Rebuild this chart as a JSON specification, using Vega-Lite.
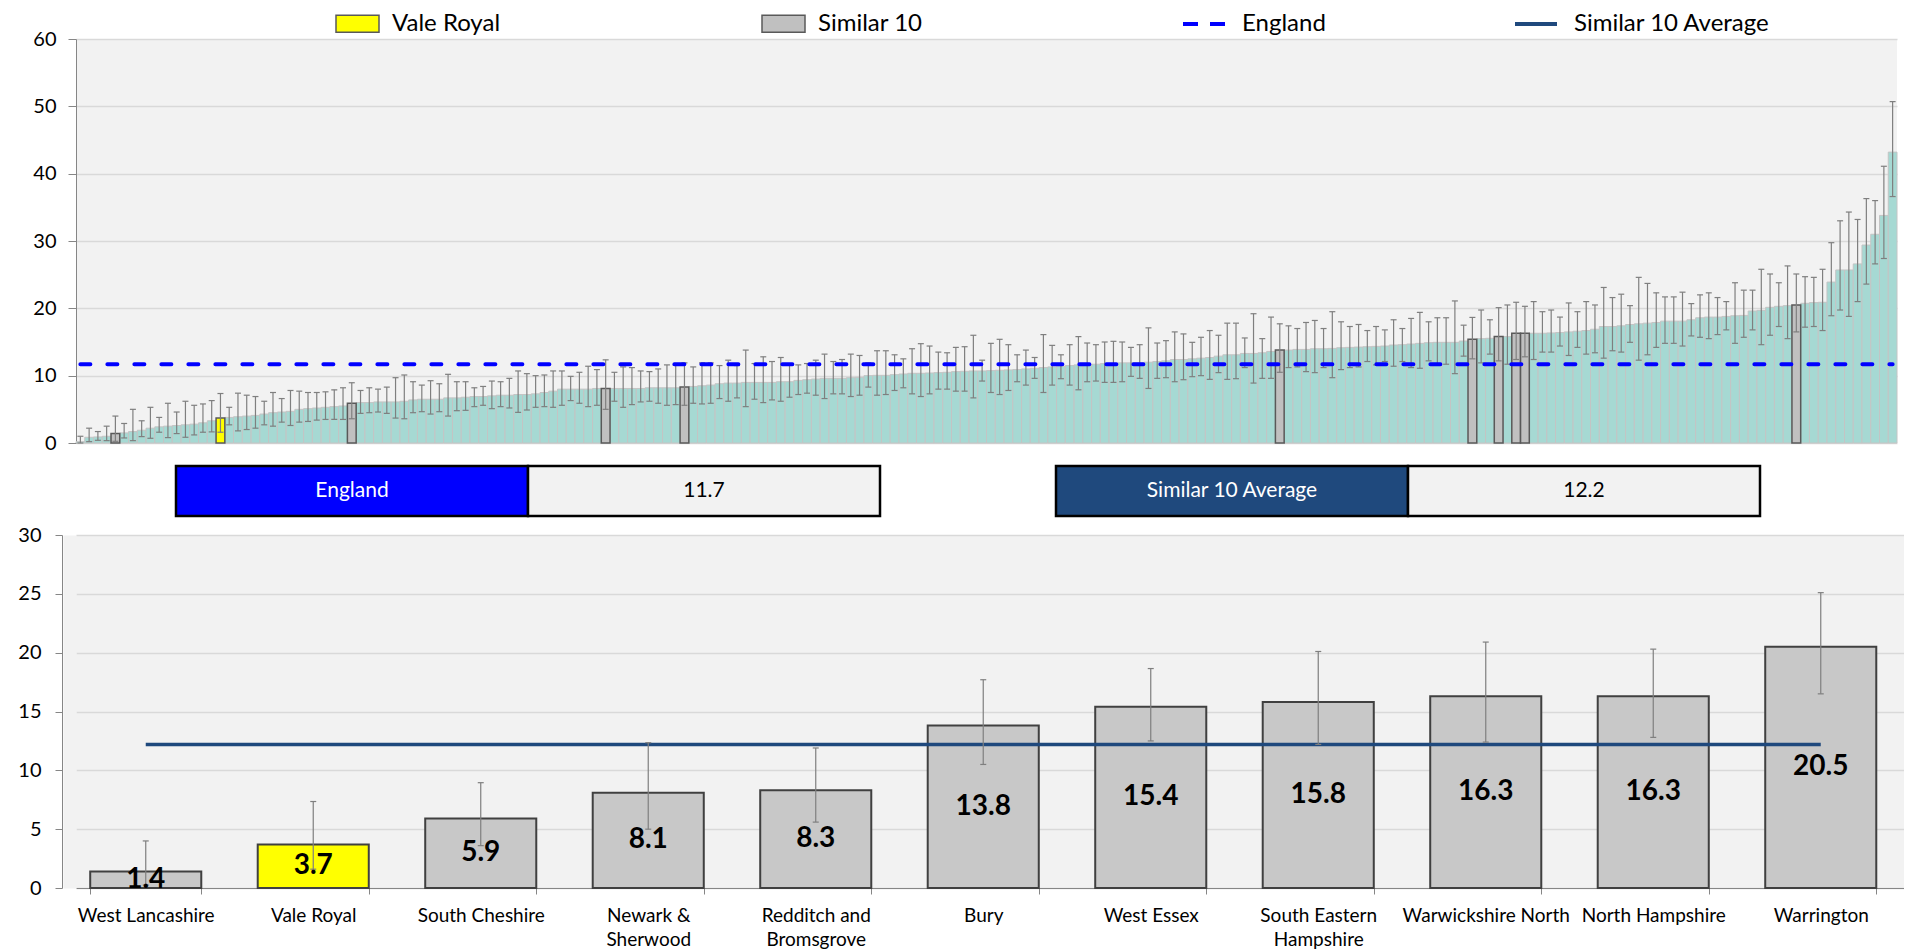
{
  "$schema": "https://vega.github.io/schema/vega-lite/v6.json",
  "padding": {"left": 0, "top": 1, "right": 0, "bottom": 0},
  "background": "white",
  "config": {
    "font": "Lato",
    "view": {"stroke": null},
    "axis": {"labelFont": "Lato", "labelColor": "#000000", "domainColor": "#868686", "tickColor": "#868686", "gridColor": "#D9D9D9", "gridWidth": 1.3, "title": null},
    "legend": {"labelFont": "Lato", "labelColor": "#000000", "labelLimit": 0}
  },
  "datasets": {
    "all": [
      {"i":0,"v":0.2,"lo":0.0,"hi":1.0,"g":"Other"},
      {"i":1,"v":0.85,"lo":0.2,"hi":2.2,"g":"Other"},
      {"i":2,"v":0.9,"lo":0.4,"hi":1.7,"g":"Other"},
      {"i":3,"v":1.0,"lo":0.35,"hi":2.5,"g":"Other"},
      {"i":4,"v":1.4,"lo":0.25,"hi":4.0,"g":"Similar 10"},
      {"i":5,"v":1.5,"lo":0.75,"hi":2.9,"g":"Other"},
      {"i":6,"v":1.7,"lo":0.35,"hi":5.0,"g":"Other"},
      {"i":7,"v":1.9,"lo":0.95,"hi":3.3,"g":"Other"},
      {"i":8,"v":2.2,"lo":0.7,"hi":5.3,"g":"Other"},
      {"i":9,"v":2.4,"lo":1.6,"hi":3.8,"g":"Other"},
      {"i":10,"v":2.5,"lo":0.8,"hi":5.9,"g":"Other"},
      {"i":11,"v":2.6,"lo":1.4,"hi":4.6,"g":"Other"},
      {"i":12,"v":2.7,"lo":0.85,"hi":6.2,"g":"Other"},
      {"i":13,"v":2.8,"lo":1.2,"hi":5.6,"g":"Other"},
      {"i":14,"v":3.0,"lo":1.6,"hi":5.8,"g":"Other"},
      {"i":15,"v":3.3,"lo":1.65,"hi":6.3,"g":"Other"},
      {"i":16,"v":3.7,"lo":1.6,"hi":7.35,"g":"Vale Royal"},
      {"i":17,"v":3.8,"lo":2.7,"hi":5.3,"g":"Other"},
      {"i":18,"v":3.9,"lo":1.8,"hi":7.4,"g":"Other"},
      {"i":19,"v":4.0,"lo":2.0,"hi":7.1,"g":"Other"},
      {"i":20,"v":4.1,"lo":2.2,"hi":6.9,"g":"Other"},
      {"i":21,"v":4.3,"lo":2.7,"hi":6.2,"g":"Other"},
      {"i":22,"v":4.5,"lo":2.5,"hi":7.5,"g":"Other"},
      {"i":23,"v":4.6,"lo":3.1,"hi":6.6,"g":"Other"},
      {"i":24,"v":4.7,"lo":2.6,"hi":7.8,"g":"Other"},
      {"i":25,"v":5.0,"lo":3.1,"hi":7.7,"g":"Other"},
      {"i":26,"v":5.1,"lo":3.2,"hi":7.5,"g":"Other"},
      {"i":27,"v":5.2,"lo":3.4,"hi":7.5,"g":"Other"},
      {"i":28,"v":5.3,"lo":3.5,"hi":7.6,"g":"Other"},
      {"i":29,"v":5.4,"lo":3.5,"hi":7.9,"g":"Other"},
      {"i":30,"v":5.5,"lo":3.5,"hi":8.2,"g":"Other"},
      {"i":31,"v":5.9,"lo":3.6,"hi":8.95,"g":"Similar 10"},
      {"i":32,"v":6.0,"lo":4.4,"hi":7.8,"g":"Other"},
      {"i":33,"v":6.0,"lo":4.5,"hi":8.2,"g":"Other"},
      {"i":34,"v":6.1,"lo":4.6,"hi":8.0,"g":"Other"},
      {"i":35,"v":6.1,"lo":4.4,"hi":8.3,"g":"Other"},
      {"i":36,"v":6.1,"lo":3.7,"hi":9.7,"g":"Other"},
      {"i":37,"v":6.2,"lo":3.6,"hi":10.1,"g":"Other"},
      {"i":38,"v":6.4,"lo":4.5,"hi":9.1,"g":"Other"},
      {"i":39,"v":6.5,"lo":4.65,"hi":8.6,"g":"Other"},
      {"i":40,"v":6.5,"lo":4.3,"hi":9.25,"g":"Other"},
      {"i":41,"v":6.5,"lo":4.65,"hi":8.8,"g":"Other"},
      {"i":42,"v":6.7,"lo":4.0,"hi":10.2,"g":"Other"},
      {"i":43,"v":6.7,"lo":4.8,"hi":9.1,"g":"Other"},
      {"i":44,"v":6.8,"lo":4.85,"hi":9.1,"g":"Other"},
      {"i":45,"v":6.9,"lo":5.4,"hi":8.2,"g":"Other"},
      {"i":46,"v":6.9,"lo":5.6,"hi":8.4,"g":"Other"},
      {"i":47,"v":7.0,"lo":5.1,"hi":9.2,"g":"Other"},
      {"i":48,"v":7.1,"lo":5.4,"hi":9.1,"g":"Other"},
      {"i":49,"v":7.1,"lo":5.2,"hi":9.6,"g":"Other"},
      {"i":50,"v":7.2,"lo":4.55,"hi":10.7,"g":"Other"},
      {"i":51,"v":7.2,"lo":4.9,"hi":10.3,"g":"Other"},
      {"i":52,"v":7.3,"lo":5.3,"hi":10.0,"g":"Other"},
      {"i":53,"v":7.5,"lo":5.4,"hi":10.1,"g":"Other"},
      {"i":54,"v":7.7,"lo":5.3,"hi":10.7,"g":"Other"},
      {"i":55,"v":8.0,"lo":5.6,"hi":10.7,"g":"Other"},
      {"i":56,"v":8.0,"lo":6.3,"hi":9.9,"g":"Other"},
      {"i":57,"v":8.0,"lo":5.9,"hi":10.5,"g":"Other"},
      {"i":58,"v":8.0,"lo":5.4,"hi":11.4,"g":"Other"},
      {"i":59,"v":8.1,"lo":5.6,"hi":10.9,"g":"Other"},
      {"i":60,"v":8.1,"lo":5.0,"hi":12.35,"g":"Similar 10"},
      {"i":61,"v":8.1,"lo":6.2,"hi":10.5,"g":"Other"},
      {"i":62,"v":8.1,"lo":5.3,"hi":11.3,"g":"Other"},
      {"i":63,"v":8.1,"lo":5.7,"hi":11.2,"g":"Other"},
      {"i":64,"v":8.1,"lo":6.1,"hi":10.7,"g":"Other"},
      {"i":65,"v":8.2,"lo":6.2,"hi":10.6,"g":"Other"},
      {"i":66,"v":8.2,"lo":5.9,"hi":11.0,"g":"Other"},
      {"i":67,"v":8.2,"lo":5.6,"hi":11.6,"g":"Other"},
      {"i":68,"v":8.2,"lo":5.7,"hi":11.6,"g":"Other"},
      {"i":69,"v":8.3,"lo":5.6,"hi":11.9,"g":"Similar 10"},
      {"i":70,"v":8.4,"lo":5.9,"hi":11.3,"g":"Other"},
      {"i":71,"v":8.5,"lo":5.8,"hi":11.9,"g":"Other"},
      {"i":72,"v":8.6,"lo":5.9,"hi":11.9,"g":"Other"},
      {"i":73,"v":8.8,"lo":6.6,"hi":11.5,"g":"Other"},
      {"i":74,"v":8.9,"lo":6.2,"hi":12.3,"g":"Other"},
      {"i":75,"v":8.9,"lo":6.7,"hi":11.5,"g":"Other"},
      {"i":76,"v":9.0,"lo":5.4,"hi":13.8,"g":"Other"},
      {"i":77,"v":9.0,"lo":6.5,"hi":11.8,"g":"Other"},
      {"i":78,"v":9.0,"lo":6.0,"hi":12.8,"g":"Other"},
      {"i":79,"v":9.0,"lo":6.4,"hi":12.1,"g":"Other"},
      {"i":80,"v":9.1,"lo":6.2,"hi":12.7,"g":"Other"},
      {"i":81,"v":9.1,"lo":6.8,"hi":11.7,"g":"Other"},
      {"i":82,"v":9.3,"lo":7.2,"hi":11.6,"g":"Other"},
      {"i":83,"v":9.4,"lo":7.4,"hi":11.8,"g":"Other"},
      {"i":84,"v":9.5,"lo":7.1,"hi":12.3,"g":"Other"},
      {"i":85,"v":9.6,"lo":6.6,"hi":13.2,"g":"Other"},
      {"i":86,"v":9.6,"lo":7.3,"hi":12.1,"g":"Other"},
      {"i":87,"v":9.6,"lo":7.3,"hi":12.4,"g":"Other"},
      {"i":88,"v":9.7,"lo":6.9,"hi":13.2,"g":"Other"},
      {"i":89,"v":9.75,"lo":7.1,"hi":13.0,"g":"Other"},
      {"i":90,"v":10.0,"lo":8.3,"hi":11.9,"g":"Other"},
      {"i":91,"v":10.05,"lo":7.1,"hi":13.7,"g":"Other"},
      {"i":92,"v":10.05,"lo":7.2,"hi":13.7,"g":"Other"},
      {"i":93,"v":10.15,"lo":7.8,"hi":13.1,"g":"Other"},
      {"i":94,"v":10.25,"lo":8.2,"hi":12.5,"g":"Other"},
      {"i":95,"v":10.35,"lo":7.3,"hi":14.0,"g":"Other"},
      {"i":96,"v":10.35,"lo":6.9,"hi":14.75,"g":"Other"},
      {"i":97,"v":10.4,"lo":7.3,"hi":14.4,"g":"Other"},
      {"i":98,"v":10.45,"lo":8.0,"hi":13.5,"g":"Other"},
      {"i":99,"v":10.5,"lo":8.0,"hi":13.4,"g":"Other"},
      {"i":100,"v":10.6,"lo":7.7,"hi":14.2,"g":"Other"},
      {"i":101,"v":10.65,"lo":7.7,"hi":14.3,"g":"Other"},
      {"i":102,"v":10.7,"lo":6.7,"hi":16.0,"g":"Other"},
      {"i":103,"v":10.7,"lo":9.2,"hi":12.3,"g":"Other"},
      {"i":104,"v":10.75,"lo":7.5,"hi":14.8,"g":"Other"},
      {"i":105,"v":10.8,"lo":7.2,"hi":15.4,"g":"Other"},
      {"i":106,"v":10.85,"lo":7.8,"hi":14.6,"g":"Other"},
      {"i":107,"v":10.9,"lo":9.1,"hi":13.1,"g":"Other"},
      {"i":108,"v":11.0,"lo":8.6,"hi":13.8,"g":"Other"},
      {"i":109,"v":11.1,"lo":9.6,"hi":12.7,"g":"Other"},
      {"i":110,"v":11.2,"lo":7.5,"hi":16.1,"g":"Other"},
      {"i":111,"v":11.3,"lo":8.6,"hi":14.5,"g":"Other"},
      {"i":112,"v":11.4,"lo":9.55,"hi":13.1,"g":"Other"},
      {"i":113,"v":11.5,"lo":8.6,"hi":14.6,"g":"Other"},
      {"i":114,"v":11.6,"lo":7.9,"hi":15.8,"g":"Other"},
      {"i":115,"v":11.6,"lo":9.1,"hi":14.85,"g":"Other"},
      {"i":116,"v":11.7,"lo":9.2,"hi":14.6,"g":"Other"},
      {"i":117,"v":11.8,"lo":9.0,"hi":15.0,"g":"Other"},
      {"i":118,"v":11.8,"lo":9.0,"hi":15.1,"g":"Other"},
      {"i":119,"v":11.9,"lo":9.1,"hi":15.0,"g":"Other"},
      {"i":120,"v":11.9,"lo":9.9,"hi":14.2,"g":"Other"},
      {"i":121,"v":11.9,"lo":9.6,"hi":14.6,"g":"Other"},
      {"i":122,"v":12.0,"lo":8.1,"hi":17.1,"g":"Other"},
      {"i":123,"v":12.1,"lo":9.6,"hi":14.85,"g":"Other"},
      {"i":124,"v":12.2,"lo":9.7,"hi":15.2,"g":"Other"},
      {"i":125,"v":12.4,"lo":9.1,"hi":16.5,"g":"Other"},
      {"i":126,"v":12.4,"lo":9.4,"hi":16.2,"g":"Other"},
      {"i":127,"v":12.5,"lo":9.85,"hi":14.95,"g":"Other"},
      {"i":128,"v":12.6,"lo":10.0,"hi":15.7,"g":"Other"},
      {"i":129,"v":12.7,"lo":9.45,"hi":16.7,"g":"Other"},
      {"i":130,"v":12.9,"lo":10.45,"hi":16.0,"g":"Other"},
      {"i":131,"v":13.1,"lo":9.45,"hi":17.8,"g":"Other"},
      {"i":132,"v":13.1,"lo":9.55,"hi":17.8,"g":"Other"},
      {"i":133,"v":13.3,"lo":11.2,"hi":15.6,"g":"Other"},
      {"i":134,"v":13.3,"lo":8.9,"hi":19.2,"g":"Other"},
      {"i":135,"v":13.4,"lo":9.6,"hi":15.5,"g":"Other"},
      {"i":136,"v":13.6,"lo":9.6,"hi":18.7,"g":"Other"},
      {"i":137,"v":13.8,"lo":10.5,"hi":17.7,"g":"Similar 10"},
      {"i":138,"v":13.8,"lo":11.2,"hi":17.4,"g":"Other"},
      {"i":139,"v":13.9,"lo":11.3,"hi":17.0,"g":"Other"},
      {"i":140,"v":13.9,"lo":10.6,"hi":17.9,"g":"Other"},
      {"i":141,"v":14.0,"lo":10.45,"hi":18.2,"g":"Other"},
      {"i":142,"v":14.0,"lo":11.2,"hi":17.0,"g":"Other"},
      {"i":143,"v":14.05,"lo":9.7,"hi":19.5,"g":"Other"},
      {"i":144,"v":14.15,"lo":10.9,"hi":18.0,"g":"Other"},
      {"i":145,"v":14.2,"lo":11.2,"hi":17.3,"g":"Other"},
      {"i":146,"v":14.25,"lo":11.3,"hi":17.6,"g":"Other"},
      {"i":147,"v":14.3,"lo":12.1,"hi":16.7,"g":"Other"},
      {"i":148,"v":14.35,"lo":11.6,"hi":17.3,"g":"Other"},
      {"i":149,"v":14.4,"lo":12.1,"hi":16.8,"g":"Other"},
      {"i":150,"v":14.55,"lo":11.4,"hi":18.3,"g":"Other"},
      {"i":151,"v":14.6,"lo":12.1,"hi":17.0,"g":"Other"},
      {"i":152,"v":14.7,"lo":11.2,"hi":18.5,"g":"Other"},
      {"i":153,"v":14.8,"lo":11.1,"hi":19.4,"g":"Other"},
      {"i":154,"v":14.9,"lo":12.2,"hi":18.0,"g":"Other"},
      {"i":155,"v":14.95,"lo":11.7,"hi":18.6,"g":"Other"},
      {"i":156,"v":14.95,"lo":11.7,"hi":18.6,"g":"Other"},
      {"i":157,"v":14.95,"lo":10.3,"hi":21.1,"g":"Other"},
      {"i":158,"v":15.15,"lo":12.9,"hi":17.5,"g":"Other"},
      {"i":159,"v":15.4,"lo":12.5,"hi":18.65,"g":"Similar 10"},
      {"i":160,"v":15.5,"lo":11.9,"hi":19.75,"g":"Other"},
      {"i":161,"v":15.55,"lo":13.2,"hi":18.3,"g":"Other"},
      {"i":162,"v":15.8,"lo":12.2,"hi":20.1,"g":"Similar 10"},
      {"i":163,"v":15.8,"lo":11.7,"hi":20.5,"g":"Other"},
      {"i":164,"v":16.3,"lo":12.4,"hi":20.9,"g":"Similar 10"},
      {"i":165,"v":16.3,"lo":12.8,"hi":20.3,"g":"Similar 10"},
      {"i":166,"v":16.3,"lo":12.4,"hi":21.0,"g":"Other"},
      {"i":167,"v":16.3,"lo":13.5,"hi":19.5,"g":"Other"},
      {"i":168,"v":16.35,"lo":13.5,"hi":19.75,"g":"Other"},
      {"i":169,"v":16.4,"lo":14.4,"hi":18.7,"g":"Other"},
      {"i":170,"v":16.5,"lo":13.0,"hi":20.8,"g":"Other"},
      {"i":171,"v":16.6,"lo":14.2,"hi":19.5,"g":"Other"},
      {"i":172,"v":16.7,"lo":13.2,"hi":21.0,"g":"Other"},
      {"i":173,"v":16.9,"lo":13.4,"hi":20.5,"g":"Other"},
      {"i":174,"v":17.3,"lo":12.6,"hi":23.1,"g":"Other"},
      {"i":175,"v":17.3,"lo":13.7,"hi":21.6,"g":"Other"},
      {"i":176,"v":17.4,"lo":13.5,"hi":22.1,"g":"Other"},
      {"i":177,"v":17.6,"lo":14.95,"hi":20.4,"g":"Other"},
      {"i":178,"v":17.7,"lo":12.3,"hi":24.6,"g":"Other"},
      {"i":179,"v":17.8,"lo":13.1,"hi":23.7,"g":"Other"},
      {"i":180,"v":17.9,"lo":14.2,"hi":22.3,"g":"Other"},
      {"i":181,"v":18.1,"lo":14.8,"hi":21.7,"g":"Other"},
      {"i":182,"v":18.1,"lo":14.8,"hi":21.7,"g":"Other"},
      {"i":183,"v":18.1,"lo":14.4,"hi":22.4,"g":"Other"},
      {"i":184,"v":18.3,"lo":15.9,"hi":20.7,"g":"Other"},
      {"i":185,"v":18.6,"lo":15.7,"hi":22.0,"g":"Other"},
      {"i":186,"v":18.7,"lo":15.5,"hi":22.3,"g":"Other"},
      {"i":187,"v":18.7,"lo":16.1,"hi":21.6,"g":"Other"},
      {"i":188,"v":18.8,"lo":16.8,"hi":21.0,"g":"Other"},
      {"i":189,"v":18.9,"lo":14.8,"hi":23.8,"g":"Other"},
      {"i":190,"v":18.95,"lo":15.7,"hi":22.7,"g":"Other"},
      {"i":191,"v":19.6,"lo":16.8,"hi":22.7,"g":"Other"},
      {"i":192,"v":19.7,"lo":14.6,"hi":25.8,"g":"Other"},
      {"i":193,"v":20.15,"lo":16.0,"hi":25.1,"g":"Other"},
      {"i":194,"v":20.3,"lo":17.3,"hi":23.8,"g":"Other"},
      {"i":195,"v":20.4,"lo":15.5,"hi":26.3,"g":"Other"},
      {"i":196,"v":20.5,"lo":16.5,"hi":25.1,"g":"Similar 10"},
      {"i":197,"v":20.75,"lo":17.2,"hi":24.7,"g":"Other"},
      {"i":198,"v":20.85,"lo":17.3,"hi":24.6,"g":"Other"},
      {"i":199,"v":20.9,"lo":16.7,"hi":25.8,"g":"Other"},
      {"i":200,"v":23.9,"lo":18.9,"hi":29.75,"g":"Other"},
      {"i":201,"v":25.7,"lo":19.75,"hi":33.0,"g":"Other"},
      {"i":202,"v":25.7,"lo":18.8,"hi":34.3,"g":"Other"},
      {"i":203,"v":26.6,"lo":21.0,"hi":33.2,"g":"Other"},
      {"i":204,"v":29.4,"lo":23.6,"hi":36.3,"g":"Other"},
      {"i":205,"v":31.0,"lo":26.6,"hi":36.0,"g":"Other"},
      {"i":206,"v":33.8,"lo":27.4,"hi":41.1,"g":"Other"},
      {"i":207,"v":43.2,"lo":36.6,"hi":50.7,"g":"Other"}
    ],
    "similar": [
      {"name":"West Lancashire","v":1.4,"lo":0.25,"hi":4.0},
      {"name":"Vale Royal","v":3.7,"lo":1.6,"hi":7.35},
      {"name":"South Cheshire","v":5.9,"lo":3.6,"hi":8.95},
      {"name":"Newark & Sherwood","v":8.1,"lo":5.0,"hi":12.35},
      {"name":"Redditch and Bromsgrove","v":8.3,"lo":5.6,"hi":11.9},
      {"name":"Bury","v":13.8,"lo":10.5,"hi":17.7},
      {"name":"West Essex","v":15.4,"lo":12.5,"hi":18.65},
      {"name":"South Eastern Hampshire","v":15.8,"lo":12.2,"hi":20.1},
      {"name":"Warwickshire North","v":16.3,"lo":12.4,"hi":20.9},
      {"name":"North Hampshire","v":16.3,"lo":12.8,"hi":20.3},
      {"name":"Warrington","v":20.5,"lo":16.5,"hi":25.1}
    ]
  },
  "columns": 1,
  "spacing": 11,
  "resolve": {"scale": {"fill": "independent", "stroke": "independent"}, "legend": {"fill": "independent", "stroke": "independent"}},
  "concat": [
    {
      "width": 1821,
      "height": 404,
      "view": {"fill": "#F2F2F2", "stroke": null},
      "data": {"name": "all"},
      "encoding": {
        "x": {"field": "i", "type": "ordinal", "axis": null, "scale": {"paddingInner": 0, "paddingOuter": 0}}
      },
      "layer": [
        {
          "transform": [{"filter": "datum.g === 'Other'"}],
          "mark": {"type": "bar", "fill": "#A6D9D3", "stroke": "#C4C4C4", "strokeWidth": 1, "opacity": 1},
          "encoding": {
            "y": {"field": "v", "type": "quantitative", "scale": {"domain": [0, 60], "nice": false},
              "axis": {"values": [0, 10, 20, 30, 40, 50, 60], "labelFontSize": 20, "tickSize": 8, "labelPadding": 12, "grid": true, "domainColor": "#868686", "minExtent": 76, "maxExtent": 76}}
          }
        },
        {
          "transform": [{"filter": "datum.g !== 'Other'"}],
          "mark": {"type": "bar", "stroke": "#595959", "strokeWidth": 1.5, "opacity": 1},
          "encoding": {
            "y": {"field": "v", "type": "quantitative"},
            "fill": {"field": "g", "type": "nominal",
              "scale": {"domain": ["Vale Royal", "Similar 10"], "range": ["#FFFF00", "#C0C0C0"]},
              "legend": {"orient": "none", "legendX": 259, "legendY": -38, "direction": "horizontal", "title": null,
                "labelFontSize": 24, "labelOffset": 12, "columnPadding": 258,
                "symbolType": "M-1,-0.4L1,-0.4L1,0.4L-1,0.4Z", "symbolSize": 1849,
                "encode": {"symbols": {"update": {"stroke": {"value": "#7F7F7F"}, "strokeWidth": {"value": 1.5}, "opacity": {"value": 1}}}}}}
          }
        },
        {
          "mark": {"type": "rule", "color": "#7F7F7F", "strokeWidth": 1.2},
          "encoding": {"y": {"field": "lo", "type": "quantitative"}, "y2": {"field": "hi"}}
        },
        {
          "mark": {"type": "tick", "color": "#7F7F7F", "size": 6, "thickness": 1.2, "opacity": 1},
          "encoding": {"y": {"field": "lo", "type": "quantitative"}}
        },
        {
          "mark": {"type": "tick", "color": "#7F7F7F", "size": 6, "thickness": 1.2, "opacity": 1},
          "encoding": {"y": {"field": "hi", "type": "quantitative"}}
        },
        {
          "mark": {"type": "line", "strokeWidth": 4, "strokeDash": [10, 17], "strokeCap": "round"},
          "encoding": {
            "y": {"datum": 11.7, "type": "quantitative"},
            "stroke": {"datum": "England", "type": "nominal",
              "scale": {"domain": ["England", "Similar 10 Average"], "range": ["#0000FF", "#1F497D"]},
              "legend": {"orient": "none", "legendX": 1105, "legendY": -38, "direction": "horizontal", "title": null,
                "labelFontSize": 24, "labelOffset": 15, "columnPadding": 181, "labelLimit": 0,
                "symbolType": "stroke", "symbolSize": 1764, "symbolStrokeWidth": 4,
                "encode": {"symbols": {"update": {"strokeDash": {"signal": "datum.value === 'England' ? [15, 12] : [1, 0]"}, "strokeWidth": {"value": 4}, "strokeCap": {"value": "butt"}}}}}}
          }
        }
      ]
    },
    {
      "columns": 1,
      "spacing": 7,
      "concat": [
        {
          "spacing": 0,
          "hconcat": [
            {
              "width": 904,
              "height": 50,
              "view": {"stroke": null},
              "data": {"values": [{"cell": "label", "text": "England"}, {"cell": "value", "text": "11.7"}]},
              "encoding": {"x": {"field": "cell", "type": "nominal", "axis": null, "scale": {"domain": ["label", "value"], "paddingInner": 0, "paddingOuter": 0.28409, "round": false}}},
              "layer": [
                {"mark": {"type": "rect", "stroke": "#000000", "strokeWidth": 2.5},
                 "encoding": {"fill": {"condition": {"test": "datum.cell === 'label'", "value": "#0000FF"}, "value": "#F2F2F2"}}},
                {"mark": {"type": "text", "fontSize": 21, "font": "Lato"},
                 "encoding": {"text": {"field": "text"}, "color": {"condition": {"test": "datum.cell === 'label'", "value": "#FFFFFF"}, "value": "#000000"}}}
              ]
            },
            {
              "width": 856,
              "height": 50,
              "view": {"stroke": null},
              "data": {"values": [{"cell": "label", "text": "Similar 10 Average"}, {"cell": "value", "text": "12.2"}]},
              "encoding": {"x": {"field": "cell", "type": "nominal", "axis": null, "scale": {"domain": ["label", "value"], "paddingInner": 0, "paddingOuter": 0.21591, "round": false}}},
              "layer": [
                {"mark": {"type": "rect", "stroke": "#000000", "strokeWidth": 2.5},
                 "encoding": {"fill": {"condition": {"test": "datum.cell === 'label'", "value": "#1F497D"}, "value": "#F2F2F2"}}},
                {"mark": {"type": "text", "fontSize": 21, "font": "Lato"},
                 "encoding": {"text": {"field": "text"}, "color": {"condition": {"test": "datum.cell === 'label'", "value": "#FFFFFF"}, "value": "#000000"}}}
              ]
            }
          ]
        },
        {
          "width": 1828,
          "height": 353,
          "view": {"fill": "#F2F2F2", "stroke": null},
          "data": {"name": "similar"},
          "encoding": {
            "x": {"field": "name", "type": "nominal", "sort": null,
              "scale": {"paddingInner": 0.337, "paddingOuter": 0.1252, "align": 0.339, "round": false},
              "axis": {"labelFontSize": 19, "labelAngle": 0, "tickBand": "extent", "tickSize": 6, "labelPadding": 12,
                "labelBaseline": "top", "labelLineHeight": 24, "labelLimit": 0, "labelOverlap": false,
                "labelExpr": "datum.value == 'Newark & Sherwood' ? ['Newark &', 'Sherwood'] : datum.value == 'Redditch and Bromsgrove' ? ['Redditch and', 'Bromsgrove'] : datum.value == 'South Eastern Hampshire' ? ['South Eastern', 'Hampshire'] : datum.value"}}
          },
          "resolve": {"scale": {"y": "independent"}},
          "layer": [
            {
              "layer": [
                {
                  "mark": {"type": "bar", "stroke": "#404040", "strokeWidth": 2, "opacity": 1},
                  "encoding": {
                    "y": {"field": "v", "type": "quantitative", "scale": {"domain": [0, 30], "nice": false},
                      "axis": {"values": [0, 5, 10, 15, 20, 25, 30], "labelFontSize": 20, "tickSize": 7, "labelPadding": 14, "grid": true, "offset": 14, "minExtent": 62, "maxExtent": 62}},
                    "fill": {"condition": {"test": "datum.name === 'Vale Royal'", "value": "#FFFF00"}, "value": "#C8C8C8"}
                  }
                },
                {
                  "mark": {"type": "line", "color": "#1F497D", "strokeWidth": 3.5},
                  "encoding": {"y": {"datum": 12.2, "type": "quantitative"}}
                },
                {
                  "mark": {"type": "rule", "color": "#7F7F7F", "strokeWidth": 1.2},
                  "encoding": {"y": {"field": "lo", "type": "quantitative"}, "y2": {"field": "hi"}}
                },
                {
                  "mark": {"type": "tick", "color": "#7F7F7F", "size": 6, "thickness": 1.2, "opacity": 1},
                  "encoding": {"y": {"field": "lo", "type": "quantitative"}}
                },
                {
                  "mark": {"type": "tick", "color": "#7F7F7F", "size": 6, "thickness": 1.2, "opacity": 1},
                  "encoding": {"y": {"field": "hi", "type": "quantitative"}}
                }
              ]
            },
            {
              "mark": {"type": "text", "fontSize": 28, "fontWeight": "bold", "font": "Lato", "color": "#000000", "baseline": "middle"},
              "encoding": {
                "y": {"field": "v", "type": "quantitative", "scale": {"domain": [0, 60], "nice": false},
                  "axis": {"orient": "left", "offset": 6.5, "domainWidth": 13, "domainColor": "#F2F2F2", "domainCap": "butt", "labels": false, "ticks": false, "grid": false, "minExtent": 0, "maxExtent": 0}},
                "text": {"field": "v", "type": "quantitative", "format": ".1f"}
              }
            }
          ]
        }
      ]
    }
  ]
}
